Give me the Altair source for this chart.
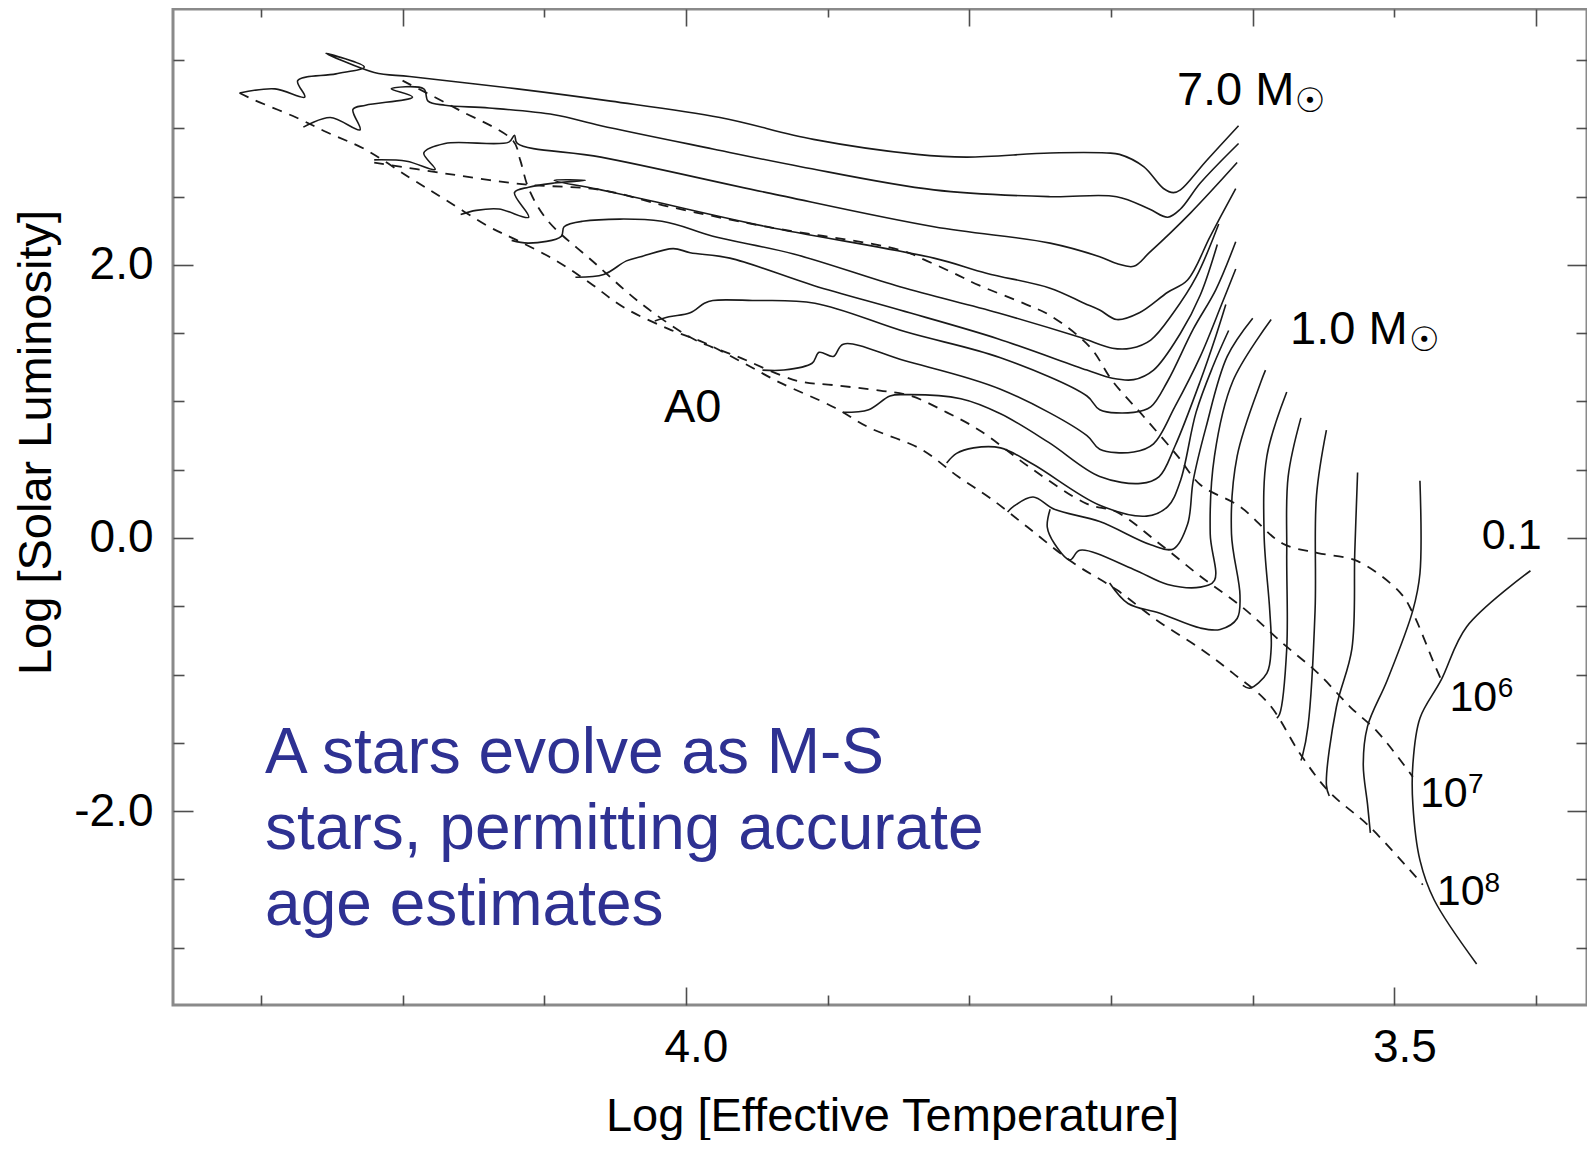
import altair as alt
import pandas as pd

# ---------------- evolutionary tracks (log Teff, log L/Lsun) ----------------
T1_LOGT = [3.610, 3.633, 3.651, 3.656, 3.663, 3.677, 3.694, 3.703, 3.743, 3.802, 3.837, 3.910, 3.976, 4.053, 4.119, 4.195, 4.220, 4.254, 4.227, 4.247, 4.274, 4.269, 4.290, 4.315]
T1_LOGL = [3.02, 2.76, 2.55, 2.53, 2.56, 2.72, 2.81, 2.82, 2.82, 2.79, 2.81, 2.92, 3.08, 3.20, 3.29, 3.38, 3.41, 3.55, 3.45, 3.40, 3.35, 3.23, 3.29, 3.26]
T2_LOGT = [3.610, 3.637, 3.651, 3.660, 3.673, 3.696, 3.743, 3.825, 3.919, 3.981, 4.060, 4.093, 4.139, 4.170, 4.182, 4.185, 4.208, 4.193, 4.226, 4.235, 4.230, 4.251, 4.270]
T2_LOGL = [2.89, 2.60, 2.41, 2.35, 2.41, 2.50, 2.50, 2.55, 2.72, 2.85, 3.02, 3.10, 3.15, 3.17, 3.20, 3.29, 3.29, 3.23, 3.17, 3.14, 2.99, 3.08, 3.01]
T3_LOGT = [3.611, 3.644, 3.673, 3.684, 3.696, 3.708, 3.743, 3.825, 3.943, 4.060, 4.119, 4.121, 4.125, 4.170, 4.185, 4.177, 4.197, 4.220]
T3_LOGL = [2.75, 2.38, 2.09, 1.99, 2.01, 2.06, 2.16, 2.28, 2.53, 2.79, 2.89, 2.95, 2.90, 2.89, 2.82, 2.70, 2.76, 2.77]
T4_LOGT = [3.612, 3.630, 3.646, 3.660, 3.680, 3.696, 3.708, 3.719, 3.743, 3.788, 3.825, 3.943, 4.025, 4.060, 4.093, 4.071, 4.093, 4.111, 4.121, 4.111, 4.132, 4.148, 4.159]
T4_LOGL = [2.56, 2.21, 1.89, 1.80, 1.65, 1.60, 1.67, 1.72, 1.83, 1.94, 2.05, 2.28, 2.47, 2.55, 2.62, 2.62, 2.60, 2.57, 2.53, 2.35, 2.41, 2.40, 2.37]
T5_LOGT = [3.624, 3.640, 3.656, 3.672, 3.686, 3.699, 3.722, 3.780, 3.849, 3.924, 3.981, 4.017, 4.073, 4.086, 4.088, 4.111, 4.123]
T5_LOGL = [2.30, 1.91, 1.65, 1.45, 1.39, 1.39, 1.47, 1.65, 1.84, 2.08, 2.21, 2.32, 2.32, 2.28, 2.21, 2.16, 2.18]
T6_LOGT = [3.625, 3.637, 3.651, 3.670, 3.684, 3.699, 3.717, 3.780, 3.849, 3.910, 3.969, 3.997, 4.009, 4.032, 4.042, 4.058, 4.078]
T6_LOGL = [2.15, 1.78, 1.50, 1.23, 1.16, 1.17, 1.23, 1.46, 1.67, 1.85, 2.05, 2.09, 2.12, 2.06, 2.03, 1.93, 1.91]
T7_LOGT = [3.612, 3.626, 3.642, 3.660, 3.672, 3.684, 3.708, 3.717, 3.778, 3.845, 3.909, 3.953, 3.981, 3.987, 3.997, 4.012, 4.022]
T7_LOGL = [2.17, 1.82, 1.53, 1.15, 0.96, 0.92, 0.94, 1.04, 1.32, 1.51, 1.72, 1.74, 1.74, 1.72, 1.65, 1.62, 1.59]
T8_LOGT = [3.612, 3.622, 3.637, 3.655, 3.670, 3.684, 3.708, 3.717, 3.778, 3.846, 3.889, 3.896, 3.906, 3.911, 3.931, 3.946]
T8_LOGL = [1.97, 1.71, 1.33, 0.96, 0.69, 0.63, 0.65, 0.75, 1.09, 1.30, 1.42, 1.33, 1.36, 1.28, 1.23, 1.23]
T9_LOGT = [3.619, 3.626, 3.637, 3.655, 3.666, 3.679, 3.708, 3.744, 3.778, 3.806, 3.846, 3.856, 3.871, 3.889]
T9_LOGL = [1.71, 1.48, 1.15, 0.67, 0.45, 0.40, 0.45, 0.70, 0.91, 1.02, 1.05, 1.04, 0.94, 0.92]
T10_LOGT = [3.617, 3.628, 3.640, 3.651, 3.660, 3.675, 3.708, 3.755, 3.778, 3.797, 3.809, 3.816]
T10_LOGL = [1.52, 1.26, 0.92, 0.42, 0.23, 0.16, 0.24, 0.54, 0.66, 0.66, 0.62, 0.55]
T11_LOGT = [3.600, 3.618, 3.633, 3.642, 3.646, 3.656, 3.672, 3.708, 3.740, 3.755, 3.769, 3.773]
T11_LOGL = [1.61, 1.33, 0.81, 0.42, 0.10, -0.08, -0.05, 0.12, 0.21, 0.30, 0.23, 0.19]
T12_LOGT = [3.587, 3.614, 3.627, 3.630, 3.627, 3.637, 3.660, 3.684, 3.722, 3.729, 3.740, 3.745, 3.743]
T12_LOGL = [1.60, 1.15, 0.60, 0.03, -0.31, -0.36, -0.34, -0.23, -0.09, -0.16, -0.04, 0.08, 0.21]
T13_LOGT = [3.591, 3.594, 3.611, 3.615, 3.609, 3.611, 3.623, 3.637, 3.666, 3.688, 3.701]
T13_LOGL = [1.23, 1.15, 0.60, 0.03, -0.42, -0.59, -0.67, -0.66, -0.55, -0.48, -0.33]
T14_LOGT = [3.576, 3.590, 3.592, 3.588, 3.587, 3.590, 3.602, 3.607]
T14_LOGL = [1.07, 0.60, 0.03, -0.53, -0.81, -0.99, -1.10, -1.08]
T15_LOGT = [3.566, 3.575, 3.576, 3.576, 3.581, 3.583]
T15_LOGL = [0.88, 0.45, -0.11, -0.81, -1.29, -1.32]
T16_LOGT = [3.548, 3.555, 3.556, 3.561, 3.565, 3.566]
T16_LOGL = [0.79, 0.31, -0.53, -1.38, -1.60, -1.63]
T17_LOGT = [3.526, 3.528, 3.530, 3.541, 3.548, 3.546]
T17_LOGL = [0.48, -0.11, -0.81, -1.24, -1.81, -1.89]
T18_LOGT = [3.482, 3.482, 3.487, 3.505, 3.519, 3.522, 3.519, 3.517]
T18_LOGL = [0.42, -0.26, -0.53, -1.04, -1.38, -1.66, -1.95, -2.16]
T19_LOGT = [3.404, 3.449, 3.467, 3.482, 3.487, 3.487, 3.482, 3.472, 3.442]
T19_LOGL = [-0.24, -0.65, -1.04, -1.32, -1.66, -1.95, -2.36, -2.65, -3.12]

# ---------------- isochrones (dashed) ----------------
ISO6_LOGT = [4.220, 4.170, 4.114, 4.060, 4.013, 3.943, 3.849, 3.830, 3.811, 3.793, 3.762, 3.743, 3.715, 3.699, 3.677, 3.653, 3.637, 3.609, 3.579, 3.554, 3.526, 3.496, 3.487, 3.472, 3.467]
ISO6_LOGL = [2.75, 2.67, 2.59, 2.55, 2.43, 2.28, 2.11, 2.03, 1.94, 1.85, 1.72, 1.63, 1.40, 1.15, 0.89, 0.60, 0.39, 0.23, -0.04, -0.11, -0.17, -0.40, -0.55, -0.92, -1.04]
ISO7_LOGT = [4.200, 4.161, 4.122, 4.117, 4.111, 4.098, 4.065, 4.032, 3.997, 3.982, 3.964, 3.921, 3.896, 3.863, 3.841, 3.816, 3.793, 3.755, 3.717, 3.696, 3.666, 3.637, 3.607, 3.579, 3.554, 3.531, 3.512, 3.487]
ISO7_LOGL = [3.35, 3.14, 2.91, 2.77, 2.56, 2.33, 2.02, 1.72, 1.47, 1.40, 1.33, 1.15, 1.12, 1.08, 1.04, 0.92, 0.79, 0.50, 0.25, 0.19, -0.04, -0.28, -0.51, -0.77, -0.99, -1.24, -1.42, -1.75]
ISO8_LOGT = [4.315, 4.305, 4.275, 4.253, 4.227, 4.195, 4.170, 4.139, 4.119, 4.093, 4.068, 4.044, 4.012, 3.987, 3.959, 3.934, 3.896, 3.871, 3.834, 3.808, 3.785, 3.759, 3.727, 3.696, 3.668, 3.637, 3.614, 3.589, 3.566, 3.546, 3.518, 3.480]
ISO8_LOGL = [3.26, 3.21, 3.08, 2.97, 2.85, 2.64, 2.48, 2.28, 2.18, 2.04, 1.87, 1.69, 1.53, 1.43, 1.28, 1.14, 0.96, 0.81, 0.65, 0.45, 0.29, 0.08, -0.18, -0.38, -0.60, -0.81, -0.99, -1.21, -1.59, -1.86, -2.11, -2.54]

# ---------------- labels ----------------
MASS_TEXT = ["7.0 M", "1.0 M", "A0"]
MASS_LOGT = [3.6535, 3.5737, 4.0155]
MASS_LOGL = [3.173, 1.423, 0.850]
NUM_TEXT = ["0.1", "10", "10", "10"]
NUM_LOGT = [3.4383, 3.4612, 3.4820, 3.4701]
NUM_LOGL = [-0.083, -1.268, -1.968, -2.691]
EXP_TEXT = ["6", "7", "8"]
EXP_LOGT = [3.4270, 3.4480, 3.4365]
EXP_LOGL = [-1.165, -1.871, -2.593]
SUN_TEXT = ["\u2609", "\u2609"]
SUN_LOGT = [3.5596, 3.4790]
SUN_LOGL = [3.196, 1.445]
NOTE_TEXT = ["A stars evolve as M-S\nstars, permitting accurate\nage estimates"]
NOTE_LOGT = [4.297]
NOTE_LOGL = [-1.722]

X_TICKS = [4.3, 4.2, 4.1, 4.0, 3.9, 3.8, 3.7, 3.6, 3.5, 3.4]
Y_TICKS = [3.5, 3.0, 2.5, 2.0, 1.5, 1.0, 0.5, 0.0, -0.5, -1.0, -1.5, -2.0, -2.5, -3.0]
X_LABELS = [4.0, 3.5]
Y_LABELS = [2.0, 0.0, -2.0]

TRACKS = [
    ("T1", T1_LOGT, T1_LOGL), ("T2", T2_LOGT, T2_LOGL), ("T3", T3_LOGT, T3_LOGL),
    ("T4", T4_LOGT, T4_LOGL), ("T5", T5_LOGT, T5_LOGL), ("T6", T6_LOGT, T6_LOGL),
    ("T7", T7_LOGT, T7_LOGL), ("T8", T8_LOGT, T8_LOGL), ("T9", T9_LOGT, T9_LOGL),
    ("T10", T10_LOGT, T10_LOGL), ("T11", T11_LOGT, T11_LOGL), ("T12", T12_LOGT, T12_LOGL),
    ("T13", T13_LOGT, T13_LOGL), ("T14", T14_LOGT, T14_LOGL), ("T15", T15_LOGT, T15_LOGL),
    ("T16", T16_LOGT, T16_LOGL), ("T17", T17_LOGT, T17_LOGL), ("T18", T18_LOGT, T18_LOGL),
    ("T19", T19_LOGT, T19_LOGL),
]
ISOS = [("1e6", ISO6_LOGT, ISO6_LOGL), ("1e7", ISO7_LOGT, ISO7_LOGL), ("1e8", ISO8_LOGT, ISO8_LOGL)]


def to_frame(groups, key):
    rows = []
    for name, ts, ls in groups:
        for i, (t, l) in enumerate(zip(ts, ls)):
            rows.append({key: name, "i": i, "logT": t, "logL": l})
    return pd.DataFrame(rows)


def text_frame(texts, ts, ls):
    return pd.DataFrame({"text": texts, "logT": ts, "logL": ls})


df_tracks = to_frame(TRACKS, "track")
df_iso = to_frame(ISOS, "iso")
df_mass = text_frame(MASS_TEXT, MASS_LOGT, MASS_LOGL)
df_num = text_frame(NUM_TEXT, NUM_LOGT, NUM_LOGL)
df_exp = text_frame(EXP_TEXT, EXP_LOGT, EXP_LOGL)
df_sun = text_frame(SUN_TEXT, SUN_LOGT, SUN_LOGL)
df_note = text_frame(NOTE_TEXT, NOTE_LOGT, NOTE_LOGL)

W, H = 1414, 996
FONT = "Liberation Sans"
INK = "#1a1a1a"
TICK = "#4d4d4d"

x_scale = alt.Scale(domain=[3.3641, 4.3620], reverse=True, nice=False, zero=False)
y_scale = alt.Scale(domain=[-3.421, 3.875], nice=False, zero=False)

x_label_axis = alt.Axis(
    values=X_LABELS, format=".1f", ticks=False, tickSize=0, domain=False, grid=False,
    labelFont=FONT, labelFontSize=46, labelColor="black", labelPadding=20, labelOffset=10,
    labelFlush=False, labelOverlap=False,
    title="Log [Effective Temperature]", titleFont=FONT, titleFontSize=47,
    titleFontWeight="normal", titleColor="black", titleX=719, titleY=125,
    titleAlign="center", titleBaseline="alphabetic", titleAnchor="start",
)
y_label_axis = alt.Axis(
    values=Y_LABELS, ticks=False, tickSize=0, domain=False, grid=False,
    labelExpr="(datum.value < 0 ? '-' : '') + format(abs(datum.value), '.1f')",
    labelFont=FONT, labelFontSize=46, labelColor="black", labelPadding=20,
    labelFlush=False, labelOverlap=False,
    title="Log [Solar Luminosity]", titleFont=FONT, titleFontSize=47,
    titleFontWeight="normal", titleColor="black", titleAngle=270, titleX=-123, titleY=433,
    titleAlign="center", titleBaseline="alphabetic", titleAnchor="start",
)

# inward ticks: axes flipped to the opposite side with a negative offset
x_ticks_bottom = alt.Axis(
    orient="top", offset=-H, values=X_TICKS, labels=False, domain=False, grid=False, title=None,
    tickColor=TICK, tickWidth=1.6,
    tickSize={"condition": {"test": "abs(datum.value-4.0)<0.001 || abs(datum.value-3.5)<0.001", "value": 18}, "value": 10},
)
x_ticks_top = alt.Axis(
    orient="bottom", offset=-H, values=X_TICKS, labels=False, domain=False, grid=False, title=None,
    tickColor=TICK, tickWidth=1.6,
    tickSize={"condition": {"test": "abs(datum.value*5 - round(datum.value*5)) < 0.01", "value": 17}, "value": 8},
)
y_ticks_left = alt.Axis(
    orient="right", offset=-W, values=Y_TICKS, labels=False, domain=False, grid=False, title=None,
    tickColor=TICK, tickWidth=1.6,
    tickSize={"condition": {"test": "abs(datum.value)<0.001 || abs(abs(datum.value)-2)<0.001", "value": 20}, "value": 11},
)
y_ticks_right = alt.Axis(
    orient="left", offset=-W, values=Y_TICKS, labels=False, domain=False, grid=False, title=None,
    tickColor=TICK, tickWidth=1.6,
    tickSize={"condition": {"test": "abs(datum.value)<0.001 || abs(abs(datum.value)-2)<0.001", "value": 20}, "value": 11},
)


def pos(x_axis=None, y_axis=None):
    return dict(
        x=alt.X("logT:Q", scale=x_scale, axis=x_axis),
        y=alt.Y("logL:Q", scale=y_scale, axis=y_axis),
    )


tracks = alt.Chart(df_tracks).mark_line(
    color=INK, strokeWidth=1.6, clip=True, interpolate="catmull-rom"
).encode(
    **pos(x_label_axis, y_label_axis),
    detail="track:N",
    order=alt.Order("i:Q"),
)

isos = alt.Chart(df_iso).mark_line(
    color=INK, strokeWidth=1.8, strokeDash=[10, 8], clip=True, interpolate="catmull-rom"
).encode(
    **pos(x_ticks_bottom, y_ticks_left),
    detail="iso:N",
    order=alt.Order("i:Q"),
)

mass_labels = alt.Chart(df_mass).mark_text(
    font=FONT, fontSize=47, color="black", align="left", baseline="alphabetic"
).encode(**pos(x_ticks_top, y_ticks_right), text="text:N")

num_labels = alt.Chart(df_num).mark_text(
    font=FONT, fontSize=43, color="black", align="left", baseline="alphabetic"
).encode(**pos(), text="text:N")

exps = alt.Chart(df_exp).mark_text(
    font=FONT, fontSize=28, color="black", align="left", baseline="alphabetic"
).encode(**pos(), text="text:N")

suns = alt.Chart(df_sun).mark_text(
    font="DejaVu Sans", fontSize=34, color="black", align="center", baseline="middle"
).encode(**pos(), text="text:N")

note = alt.Chart(df_note).mark_text(
    font=FONT, fontSize=64, color="#2e3192", align="left", baseline="alphabetic",
    lineBreak="\n", lineHeight=76,
).encode(**pos(), text="text:N")

chart = (
    alt.layer(tracks, isos, mass_labels, num_labels, exps, suns, note)
    .resolve_axis(x="independent", y="independent")
    .properties(
        width=W, height=H,
        padding={"left": 165, "top": 1, "right": 0, "bottom": 135},
        autosize=alt.AutoSizeParams(type="none"),
        background="white",
    )
    .configure_view(stroke="#8a8a8a", strokeWidth=3)
)

chart.save("out.html", embed_options={"renderer": "svg", "actions": False})
